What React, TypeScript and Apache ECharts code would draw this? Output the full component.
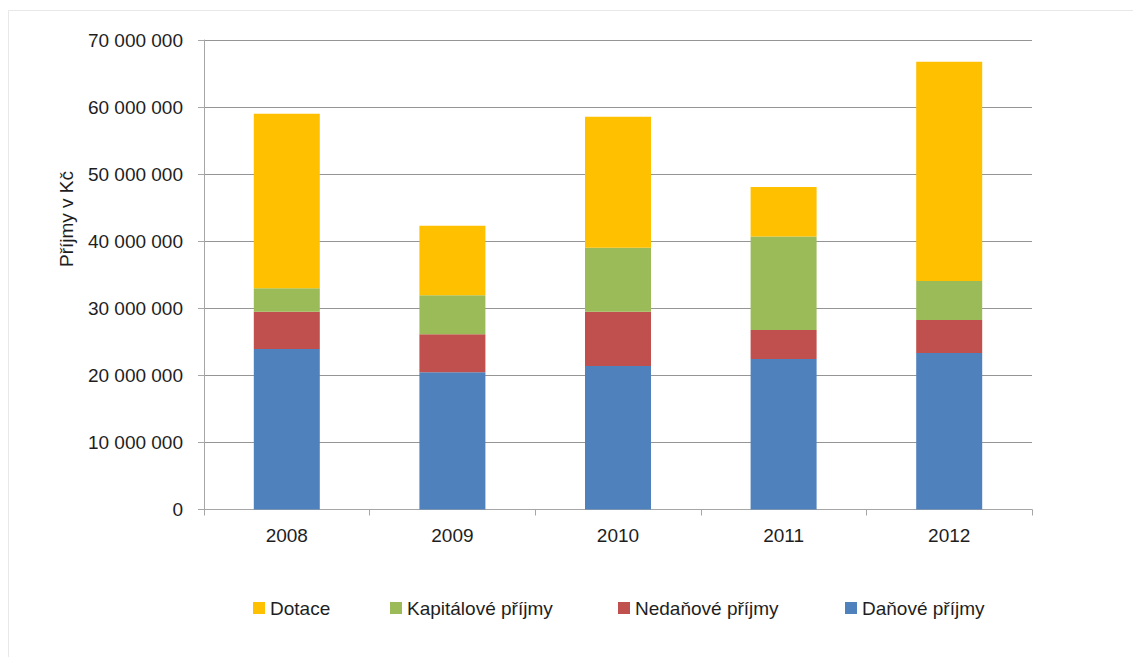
import React, { useEffect, useRef } from "react";
import * as echarts from "echarts";

const years = ["2008", "2009", "2010", "2011", "2012"];
const danove = [23930000, 20450000, 21390000, 22430000, 23330000];
const nedanove = [5570000, 5670000, 8100000, 4330000, 4920000];
const kapitalove = [3500000, 5820000, 9550000, 13930000, 5820000];
const dotace = [26000000, 10360000, 19510000, 7410000, 32690000];

const seriesNames = ["Daňové příjmy", "Nedaňové příjmy", "Kapitálové příjmy", "Dotace"];
const seriesColors = ["#4F81BD", "#C0504D", "#9BBB59", "#FFC000"];
const seriesValues = [danove, nedanove, kapitalove, dotace];

const legendOrder = ["Dotace", "Kapitálové příjmy", "Nedaňové příjmy", "Daňové příjmy"];
const legendLefts = [253, 390, 618, 845];

const yTitle = "Příjmy v Kč";
const FONT = "'Liberation Sans', Arial, sans-serif";
const TEXT = "#1e1e1e";

function fmt(v: number): string {
  return String(v).replace(/\B(?=(\d{3})+(?!\d))/g, " ");
}

export default function App() {
  const ref = useRef<HTMLDivElement>(null);
  useEffect(() => {
    if (!ref.current) return;
    const chart = echarts.init(ref.current, null, { renderer: "svg" });
    chart.setOption({
      animation: false,
      backgroundColor: "#ffffff",
      textStyle: { fontFamily: FONT },
      grid: { left: 204, right: 101, top: 40, bottom: 147.5, containLabel: false },
      xAxis: {
        type: "category",
        data: years,
        axisLine: { lineStyle: { color: "#a6a6a6", width: 1 } },
        axisTick: { show: true, length: 6, alignWithLabel: false, lineStyle: { color: "#a6a6a6" } },
        axisLabel: { color: TEXT, fontSize: 19, fontFamily: FONT, margin: 16 },
      },
      yAxis: {
        type: "value",
        min: 0,
        max: 70000000,
        interval: 10000000,
        axisLine: { show: true, lineStyle: { color: "#a6a6a6", width: 1 } },
        axisTick: { show: true, length: 6, lineStyle: { color: "#a6a6a6" } },
        splitLine: { show: true, lineStyle: { color: "#959595", width: 1 } },
        axisLabel: { color: TEXT, fontSize: 19, fontFamily: FONT, margin: 21, formatter: (v: number) => fmt(v) },
      },
      legend: legendOrder.map((name, i) => ({
        data: [name],
        left: legendLefts[i],
        top: 598,
        padding: 0,
        icon: "rect",
        itemWidth: 12,
        itemHeight: 12,
        itemGap: 5,
        textStyle: { color: TEXT, fontSize: 19, fontFamily: FONT, lineHeight: 20 },
      })),
      graphic: [
        {
          type: "rect",
          shape: { x: 8.5, y: 10.5, width: 1200, height: 700 },
          style: { fill: "none", stroke: "#e8e8e8", lineWidth: 1 },
          silent: true,
        },
        {
          type: "text",
          x: 66,
          y: 219,
          rotation: Math.PI / 2,
          style: {
            text: yTitle,
            fill: TEXT,
            fontSize: 19,
            fontFamily: FONT,
            textAlign: "center",
            textVerticalAlign: "middle",
          },
        },
      ],
      series: seriesNames.map((name, i) => ({
        name,
        type: "bar",
        stack: "total",
        barWidth: 66,
        data: seriesValues[i],
        itemStyle: { color: seriesColors[i] },
      })),
    });
    return () => chart.dispose();
  }, []);
  return <div ref={ref} style={{ position: "fixed", left: 0, top: 0, width: 1133, height: 657 }} />;
}
